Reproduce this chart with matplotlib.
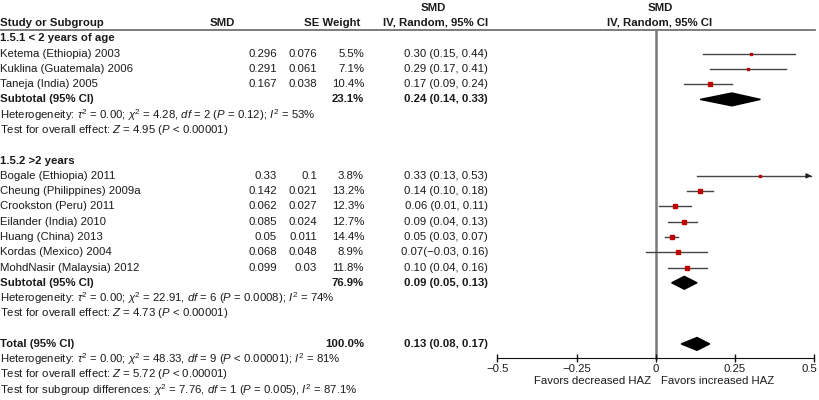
import matplotlib
matplotlib.use("Agg")
import matplotlib.pyplot as plt
import matplotlib.transforms as mtransforms

plt.rcParams['font.family'] = ['Liberation Sans', 'DejaVu Sans']
plt.rcParams['mathtext.fontset'] = 'custom'
plt.rcParams['mathtext.rm'] = 'Liberation Sans'
plt.rcParams['mathtext.it'] = 'Liberation Sans:italic'
plt.rcParams['mathtext.bf'] = 'Liberation Sans:bold'

# Data
group1_names = ["Ketema (Ethiopia) 2003", "Kuklina (Guatemala) 2006", "Taneja (India) 2005"]
group1_smd = ["0.296", "0.291", "0.167"]
group1_se = ["0.076", "0.061", "0.038"]
group1_weight = [5.5, 7.1, 10.4]
group1_est = [0.30, 0.29, 0.17]
group1_lo = [0.15, 0.17, 0.09]
group1_hi = [0.44, 0.41, 0.24]
sub1 = (23.1, 0.24, 0.14, 0.33)

group2_names = ["Bogale (Ethiopia) 2011", "Cheung (Philippines) 2009a", "Crookston (Peru) 2011",
                "Eilander (India) 2010", "Huang (China) 2013", "Kordas (Mexico) 2004",
                "MohdNasir (Malaysia) 2012"]
group2_smd = ["0.33", "0.142", "0.062", "0.085", "0.05", "0.068", "0.099"]
group2_se = ["0.1", "0.021", "0.027", "0.024", "0.011", "0.048", "0.03"]
group2_weight = [3.8, 13.2, 12.3, 12.7, 14.4, 8.9, 11.8]
group2_est = [0.33, 0.14, 0.06, 0.09, 0.05, 0.07, 0.10]
group2_lo = [0.13, 0.10, 0.01, 0.04, 0.03, -0.03, 0.04]
group2_hi = [0.53, 0.18, 0.11, 0.13, 0.07, 0.16, 0.16]
sub2 = (76.9, 0.09, 0.05, 0.13)

total = (100.0, 0.13, 0.08, 0.17)

het1 = r"Heterogeneity: $\tau^2$ = 0.00; $\chi^2$ = 4.28, $\it{df}$ = 2 ($\it{P}$ = 0.12); $\it{I}^2$ = 53%"
eff1 = r"Test for overall effect: $\it{Z}$ = 4.95 ($\it{P}$ < 0.00001)"
het2 = r"Heterogeneity: $\tau^2$ = 0.00; $\chi^2$ = 22.91, $\it{df}$ = 6 ($\it{P}$ = 0.0008); $\it{I}^2$ = 74%"
eff2 = r"Test for overall effect: $\it{Z}$ = 4.73 ($\it{P}$ < 0.00001)"
het_t = r"Heterogeneity: $\tau^2$ = 0.00; $\chi^2$ = 48.33, $\it{df}$ = 9 ($\it{P}$ < 0.00001); $\it{I}^2$ = 81%"
eff_t = r"Test for overall effect: $\it{Z}$ = 5.72 ($\it{P}$ < 0.00001)"
sub_diff = r"Test for subgroup differences: $\chi^2$ = 7.76, $\it{df}$ = 1 ($\it{P}$ = 0.005), $\it{I}^2$ = 87.1%"

xticks = [-0.5, -0.25, 0, 0.25, 0.5]
xtick_labels = ["\u22120.5", "\u22120.25", "0", "0.25", "0.5"]


def ci_text(est, lo, hi):
    sep = " " if lo >= 0 else ""
    lo_s = f"{lo:.2f}".replace("-", "\u2212")
    return f"{est:.2f}{sep}({lo_s}, {hi:.2f})"


fig = plt.figure(figsize=(8.2, 4.0), dpi=100)
W = 820
top_r, bot_r = -1.505, 24.67
tax = fig.add_axes([0, 0, 1, 1])
tax.set_xlim(0, W)
tax.set_ylim(bot_r, top_r)
tax.axis('off')

fax = fig.add_axes([497.3 / W, 0, 317 / W, 1])
fax.set_xlim(-0.5, 0.5)
fax.set_ylim(bot_r, top_r)
fax.patch.set_alpha(0)

fs = 8.2
tc = '#1a1a1a'
x_name, x_smd, x_se, x_w, x_ci = 0, 277, 317, 364, 488


def txt(x, r, s, ha='left', bold=False):
    tax.text(x, r, s, ha=ha, va='center', fontsize=fs, color=tc,
             fontweight='bold' if bold else 'normal')


# header
tax.text(433, -1.0, "SMD", ha='center', va='center', fontsize=fs, fontweight='bold', color=tc)
tax.text(660, -1.0, "SMD", ha='center', va='center', fontsize=fs, fontweight='bold', color=tc)
txt(x_name, 0, "Study or Subgroup", bold=True)
txt(222, 0, "SMD", ha='center', bold=True)
txt(360, 0, "SE Weight", ha='right', bold=True)
txt(x_ci, 0, "IV, Random, 95% CI", ha='right', bold=True)
txt(660, 0, "IV, Random, 95% CI", ha='center', bold=True)
line_r = 0.46
tax.plot([0, 815], [line_r, line_r], color='#666666', lw=1.2)

axis_r = 21.92
fax.plot([0, 0], [line_r, axis_r], color='#7a7a7a', lw=1.8, zorder=1)


def diamond(r, vals):
    est, lo, hi = vals
    h = 0.42
    fax.fill([lo, est, hi, est], [r, r - h, r, r + h], color='black', zorder=3)


def draw_group(start, title, names, smd, se, weight, est, lo, hi, sub, het, eff):
    txt(x_name, start, title, bold=True)
    for i, name in enumerate(names):
        r = start + 1 + i
        txt(x_name, r, name)
        txt(x_smd, r, smd[i], ha='right')
        txt(x_se, r, se[i], ha='right')
        txt(x_w, r, f"{weight[i]:.1f}%", ha='right')
        txt(x_ci, r, ci_text(est[i], lo[i], hi[i]), ha='right')
        if hi[i] > 0.5:
            fax.plot([lo[i], 0.49], [r, r], color='#444444', lw=1, zorder=2)
            fax.annotate("", xy=(0.5, r), xytext=(0.47, r),
                         arrowprops=dict(arrowstyle='-|>', color='#222222', lw=1,
                                         mutation_scale=7))
        else:
            fax.plot([lo[i], hi[i]], [r, r], color='#444444', lw=1, zorder=2)
        fax.plot(est[i], r, 's', color='#c00000', mec='#c00000',
                 ms=0.78 * weight[i] ** 0.5, zorder=3)
    r = start + 1 + len(names)
    txt(x_name, r, "Subtotal (95% CI)", bold=True)
    txt(x_w, r, f"{sub[0]:.1f}%", ha='right', bold=True)
    txt(x_ci, r, ci_text(*sub[1:]), ha='right', bold=True)
    diamond(r, sub[1:])
    txt(x_name, r + 1, het)
    txt(x_name, r + 2, eff)


draw_group(1, "1.5.1 < 2 years of age", group1_names, group1_smd, group1_se,
           group1_weight, group1_est, group1_lo, group1_hi, sub1, het1, eff1)
draw_group(9, "1.5.2 >2 years", group2_names, group2_smd, group2_se,
           group2_weight, group2_est, group2_lo, group2_hi, sub2, het2, eff2)

txt(x_name, 21, "Total (95% CI)", bold=True)
txt(x_w, 21, f"{total[0]:.1f}%", ha='right', bold=True)
txt(x_ci, 21, ci_text(*total[1:]), ha='right', bold=True)
diamond(21, total[1:])
txt(x_name, 22, het_t)
txt(x_name, 23, eff_t)
txt(x_name, 24, sub_diff)

# forest axis
for s in ['top', 'left', 'right']:
    fax.spines[s].set_visible(False)
fax.spines['bottom'].set_position(('data', axis_r))
fax.spines['bottom'].set_color('#111111')
fax.set_yticks([])
fax.set_xticks(xticks)
fax.set_xticklabels(xtick_labels, fontsize=fs, color=tc)
fax.tick_params(axis='x', direction='inout', length=6, width=1, pad=1, color='#111111')
last = fax.get_xticklabels()[-1]
last.set_transform(last.get_transform() +
                   mtransforms.ScaledTranslation(-5 / 100, 0, fig.dpi_scale_trans))
fax.text(-0.016, 23.43, "Favors decreased HAZ", ha='right', va='center', fontsize=fs, color=tc)
fax.text(0.016, 23.43, "Favors increased HAZ", ha='left', va='center', fontsize=fs, color=tc)

fig.savefig("out.png", dpi=100)
